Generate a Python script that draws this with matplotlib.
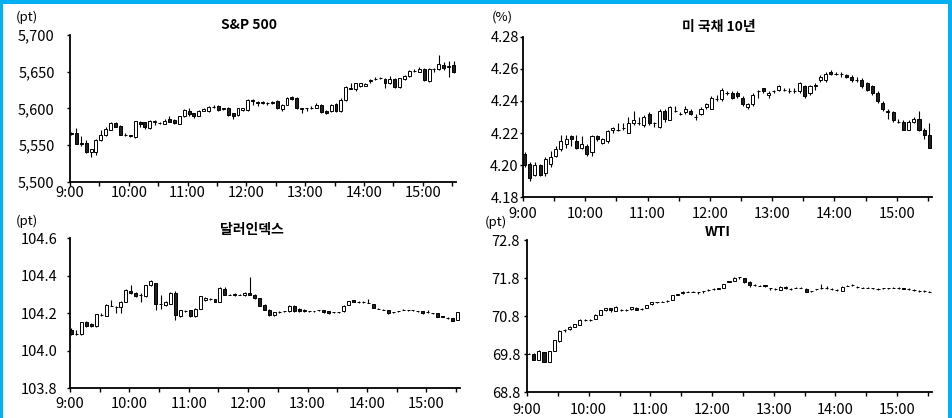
import numpy as np
import matplotlib.pyplot as plt
from matplotlib.patches import Rectangle

plt.rcParams['font.family'] = ['Noto Sans CJK KR', 'DejaVu Sans']

# ---- data: 5-minute candles, 9:00 ~ 15:30 ----
time_labels = ['9:00', '10:00', '11:00', '12:00', '13:00', '14:00', '15:00']

spx_open = [5567, 5566, 5553, 5553, 5540, 5540, 5557, 5564, 5571, 5580,
            5576, 5564, 5563, 5561, 5582, 5581, 5573, 5581, 5580, 5579,
            5586, 5584, 5579, 5589, 5597, 5593, 5590, 5597, 5596, 5602,
            5603, 5599, 5601, 5593, 5591, 5598, 5598, 5612, 5609, 5609,
            5607, 5607, 5610, 5599, 5605, 5615, 5614, 5600, 5600, 5600,
            5601, 5605, 5597, 5596, 5606, 5596, 5611, 5628, 5626, 5630,
            5631, 5637, 5640, 5641, 5640, 5634, 5640, 5629, 5640, 5644,
            5651, 5650, 5654, 5637, 5654, 5653, 5659, 5656, 5659]
spx_close = [5565, 5552, 5551, 5540, 5544, 5557, 5564, 5572, 5580, 5575,
             5564, 5563, 5562, 5583, 5579, 5574, 5583, 5583, 5580, 5583,
             5582, 5580, 5589, 5598, 5592, 5590, 5597, 5599, 5602, 5602,
             5598, 5600, 5591, 5589, 5600, 5600, 5612, 5610, 5607, 5607,
             5607, 5609, 5600, 5605, 5614, 5613, 5600, 5599, 5600, 5601,
             5605, 5595, 5594, 5605, 5596, 5612, 5629, 5627, 5634, 5634,
             5633, 5638, 5640, 5641, 5634, 5640, 5629, 5641, 5644, 5651,
             5651, 5654, 5638, 5654, 5653, 5660, 5655, 5658, 5649]
spx_high = [5568, 5573, 5562, 5557, 5545, 5558, 5571, 5575, 5581, 5581,
            5577, 5566, 5564, 5583, 5583, 5582, 5584, 5584, 5582, 5586,
            5589, 5585, 5590, 5599, 5601, 5594, 5598, 5600, 5603, 5605,
            5605, 5601, 5602, 5594, 5601, 5601, 5613, 5613, 5610, 5610,
            5609, 5610, 5611, 5606, 5616, 5617, 5615, 5601, 5601, 5603,
            5607, 5606, 5598, 5606, 5607, 5614, 5630, 5635, 5635, 5635,
            5635, 5640, 5643, 5643, 5641, 5644, 5641, 5642, 5645, 5652,
            5654, 5656, 5655, 5655, 5655, 5673, 5663, 5665, 5665]
spx_low = [5563, 5551, 5549, 5539, 5534, 5537, 5556, 5562, 5570, 5574,
           5563, 5562, 5561, 5560, 5575, 5572, 5572, 5577, 5578, 5578,
           5581, 5578, 5578, 5588, 5590, 5587, 5589, 5596, 5595, 5600,
           5597, 5598, 5590, 5585, 5590, 5596, 5597, 5604, 5603, 5606,
           5605, 5606, 5599, 5597, 5604, 5612, 5599, 5594, 5596, 5599,
           5600, 5594, 5592, 5595, 5595, 5595, 5610, 5626, 5624, 5629,
           5630, 5635, 5639, 5640, 5628, 5633, 5628, 5628, 5639, 5643,
           5649, 5649, 5637, 5636, 5650, 5652, 5652, 5643, 5648]

ust_open = [4.207, 4.201, 4.194, 4.200, 4.195, 4.201, 4.206, 4.210, 4.213, 4.218,
            4.215, 4.211, 4.212, 4.208, 4.218, 4.214, 4.215, 4.222, 4.222, 4.223,
            4.220, 4.226, 4.226, 4.225, 4.232, 4.226, 4.224, 4.234, 4.228, 4.234,
            4.232, 4.233, 4.234, 4.230, 4.232, 4.236, 4.235, 4.241, 4.241, 4.245,
            4.245, 4.245, 4.242, 4.236, 4.238, 4.246, 4.248, 4.244, 4.246, 4.247,
            4.247, 4.246, 4.246, 4.246, 4.249, 4.245, 4.249, 4.253, 4.253, 4.258,
            4.257, 4.257, 4.256, 4.255, 4.253, 4.253, 4.251, 4.249, 4.245, 4.239,
            4.234, 4.233, 4.227, 4.227, 4.222, 4.227, 4.229, 4.222, 4.219]
ust_close = [4.200, 4.192, 4.200, 4.194, 4.204, 4.205, 4.210, 4.215, 4.216, 4.216,
             4.211, 4.213, 4.207, 4.218, 4.216, 4.216, 4.221, 4.223, 4.222, 4.223,
             4.226, 4.228, 4.226, 4.230, 4.226, 4.226, 4.234, 4.229, 4.236, 4.234,
             4.232, 4.235, 4.232, 4.230, 4.235, 4.238, 4.242, 4.241, 4.247, 4.245,
             4.242, 4.243, 4.238, 4.238, 4.244, 4.246, 4.246, 4.245, 4.246, 4.249,
             4.247, 4.246, 4.246, 4.251, 4.243, 4.249, 4.250, 4.255, 4.257, 4.257,
             4.257, 4.257, 4.255, 4.253, 4.253, 4.249, 4.247, 4.245, 4.240, 4.235,
             4.233, 4.228, 4.227, 4.222, 4.227, 4.229, 4.222, 4.219, 4.211]
ust_high = [4.208, 4.202, 4.202, 4.201, 4.205, 4.209, 4.212, 4.219, 4.219, 4.219,
            4.219, 4.218, 4.213, 4.219, 4.219, 4.217, 4.222, 4.224, 4.226, 4.226,
            4.230, 4.234, 4.230, 4.231, 4.233, 4.227, 4.235, 4.235, 4.237, 4.237,
            4.233, 4.237, 4.235, 4.232, 4.236, 4.239, 4.243, 4.244, 4.248, 4.246,
            4.246, 4.246, 4.243, 4.239, 4.245, 4.247, 4.248, 4.246, 4.247, 4.250,
            4.248, 4.248, 4.248, 4.252, 4.250, 4.250, 4.251, 4.256, 4.258, 4.259,
            4.258, 4.258, 4.257, 4.256, 4.255, 4.254, 4.252, 4.250, 4.246, 4.240,
            4.235, 4.234, 4.229, 4.228, 4.228, 4.230, 4.234, 4.223, 4.226]
ust_low = [4.199, 4.190, 4.193, 4.193, 4.193, 4.199, 4.205, 4.209, 4.211, 4.212,
           4.210, 4.210, 4.206, 4.206, 4.215, 4.213, 4.214, 4.220, 4.221, 4.222,
           4.220, 4.225, 4.225, 4.224, 4.225, 4.224, 4.223, 4.227, 4.228, 4.233,
           4.231, 4.232, 4.231, 4.228, 4.231, 4.235, 4.235, 4.240, 4.240, 4.244,
           4.241, 4.242, 4.237, 4.235, 4.237, 4.242, 4.245, 4.242, 4.245, 4.246,
           4.246, 4.245, 4.245, 4.245, 4.242, 4.244, 4.247, 4.252, 4.252, 4.256,
           4.256, 4.255, 4.254, 4.252, 4.252, 4.248, 4.246, 4.244, 4.239, 4.234,
           4.229, 4.227, 4.226, 4.222, 4.222, 4.226, 4.221, 4.216, 4.211]

dxy_open = [104.11, 104.09, 104.088, 104.155, 104.145, 104.13, 104.19, 104.185, 104.24, 104.235,
            104.235, 104.26, 104.32, 104.31, 104.30, 104.29, 104.35, 104.36, 104.25, 104.245,
            104.25, 104.31, 104.185, 104.21, 104.215, 104.185, 104.225, 104.27, 104.275, 104.275,
            104.26, 104.33, 104.30, 104.305, 104.30, 104.295, 104.31, 104.30, 104.28, 104.245,
            104.22, 104.19, 104.205, 104.21, 104.21, 104.24, 104.225, 104.22, 104.21, 104.21,
            104.215, 104.215, 104.21, 104.205, 104.205, 104.21, 104.245, 104.27, 104.26, 104.26,
            104.255, 104.25, 104.225, 104.22, 104.215, 104.205, 104.21, 104.22, 104.215, 104.215,
            104.21, 104.21, 104.205, 104.20, 104.20, 104.185, 104.175, 104.175, 104.165]
dxy_close = [104.09, 104.09, 104.152, 104.13, 104.13, 104.195, 104.19, 104.245, 104.24, 104.235,
             104.26, 104.325, 104.31, 104.29, 104.30, 104.35, 104.37, 104.25, 104.25, 104.26,
             104.31, 104.19, 104.215, 104.21, 104.185, 104.225, 104.29, 104.28, 104.275, 104.26,
             104.335, 104.30, 104.30, 104.295, 104.30, 104.31, 104.30, 104.28, 104.24, 104.22,
             104.19, 104.205, 104.205, 104.21, 104.24, 104.21, 104.21, 104.21, 104.21, 104.21,
             104.215, 104.205, 104.20, 104.205, 104.205, 104.24, 104.265, 104.26, 104.26, 104.26,
             104.255, 104.23, 104.225, 104.22, 104.20, 104.205, 104.21, 104.22, 104.215, 104.215,
             104.21, 104.20, 104.205, 104.20, 104.18, 104.18, 104.175, 104.16, 104.205]
dxy_high = [104.12, 104.11, 104.155, 104.16, 104.15, 104.198, 104.20, 104.248, 104.27, 104.238,
            104.265, 104.328, 104.35, 104.312, 104.31, 104.352, 104.38, 104.362, 104.30, 104.265,
            104.312, 104.32, 104.218, 104.215, 104.218, 104.228, 104.292, 104.285, 104.28, 104.278,
            104.338, 104.34, 104.305, 104.308, 104.303, 104.312, 104.395, 104.302, 104.282, 104.247,
            104.222, 104.208, 104.21, 104.213, 104.242, 104.242, 104.227, 104.222, 104.213, 104.213,
            104.218, 104.217, 104.212, 104.208, 104.207, 104.242, 104.268, 104.272, 104.263, 104.263,
            104.275, 104.252, 104.227, 104.223, 104.217, 104.207, 104.211, 104.225, 104.218, 104.217,
            104.213, 104.212, 104.22, 104.202, 104.202, 104.187, 104.178, 104.177, 104.207]
dxy_low = [104.085, 104.085, 104.085, 104.128, 104.125, 104.128, 104.185, 104.183, 104.238, 104.20,
           104.20, 104.258, 104.305, 104.288, 104.26, 104.288, 104.348, 104.22, 104.225, 104.24,
           104.248, 104.165, 104.18, 104.205, 104.18, 104.18, 104.222, 104.265, 104.27, 104.258,
           104.258, 104.298, 104.295, 104.29, 104.297, 104.293, 104.298, 104.278, 104.238, 104.218,
           104.188, 104.188, 104.20, 104.205, 104.208, 104.208, 104.208, 104.208, 104.207, 104.207,
           104.212, 104.203, 104.198, 104.202, 104.203, 104.208, 104.243, 104.258, 104.257, 104.257,
           104.253, 104.228, 104.223, 104.217, 104.198, 104.203, 104.205, 104.219, 104.212, 104.213,
           104.207, 104.198, 104.204, 104.198, 104.178, 104.178, 104.172, 104.158, 104.163]

wti_open = [69.81, 69.80, 69.65, 69.85, 69.59, 69.88, 70.13, 70.44, 70.45, 70.52,
            70.57, 70.70, 70.70, 70.72, 70.83, 70.95, 71.00, 70.94, 70.96, 70.96,
            70.98, 71.02, 70.99, 71.02, 71.11, 71.16, 71.18, 71.20, 71.22, 71.36,
            71.40, 71.44, 71.44, 71.43, 71.46, 71.49, 71.51, 71.52, 71.55, 71.70,
            71.72, 71.82, 71.80, 71.70, 71.62, 71.60, 71.61, 71.53, 71.51, 71.49,
            71.57, 71.51, 71.55, 71.55, 71.52, 71.46, 71.51, 71.53, 71.53, 71.51,
            71.49, 71.46, 71.60, 71.62, 71.57, 71.55, 71.55, 71.53, 71.51, 71.53,
            71.53, 71.55, 71.55, 71.54, 71.51, 71.49, 71.46, 71.46, 71.44]
wti_close = [69.81, 69.65, 69.87, 69.59, 69.88, 70.17, 70.41, 70.44, 70.52, 70.58,
             70.70, 70.70, 70.70, 70.83, 70.96, 71.00, 70.95, 71.05, 70.96, 70.96,
             71.03, 70.96, 70.99, 71.08, 71.16, 71.16, 71.18, 71.20, 71.35, 71.37,
             71.44, 71.44, 71.44, 71.43, 71.46, 71.49, 71.51, 71.53, 71.64, 71.71,
             71.81, 71.82, 71.69, 71.62, 71.62, 71.60, 71.58, 71.53, 71.51, 71.57,
             71.53, 71.51, 71.55, 71.55, 71.43, 71.46, 71.51, 71.53, 71.53, 71.51,
             71.49, 71.57, 71.60, 71.62, 71.57, 71.55, 71.55, 71.53, 71.51, 71.53,
             71.53, 71.55, 71.55, 71.52, 71.51, 71.49, 71.46, 71.46, 71.44]
wti_high = [69.83, 69.82, 69.91, 69.86, 69.89, 70.18, 70.42, 70.47, 70.53, 70.59,
            70.71, 70.72, 70.72, 70.84, 70.97, 71.01, 71.01, 71.06, 70.98, 70.98,
            71.04, 71.03, 71.01, 71.09, 71.17, 71.18, 71.20, 71.22, 71.36, 71.38,
            71.45, 71.46, 71.46, 71.44, 71.47, 71.51, 71.53, 71.54, 71.65, 71.72,
            71.82, 71.83, 71.81, 71.71, 71.63, 71.62, 71.62, 71.54, 71.53, 71.58,
            71.58, 71.53, 71.56, 71.57, 71.53, 71.47, 71.52, 71.63, 71.59, 71.53,
            71.51, 71.58, 71.61, 71.63, 71.59, 71.57, 71.57, 71.55, 71.53, 71.55,
            71.55, 71.57, 71.56, 71.55, 71.53, 71.51, 71.48, 71.48, 71.46]
wti_low = [69.79, 69.63, 69.64, 69.58, 69.58, 69.87, 70.12, 70.38, 70.42, 70.51,
           70.56, 70.68, 70.68, 70.71, 70.82, 70.94, 70.90, 70.93, 70.92, 70.94,
           70.97, 70.95, 70.97, 71.01, 71.10, 71.14, 71.16, 71.18, 71.21, 71.35,
           71.39, 71.42, 71.42, 71.38, 71.41, 71.47, 71.49, 71.51, 71.54, 71.69,
           71.71, 71.77, 71.68, 71.57, 71.58, 71.58, 71.57, 71.49, 71.49, 71.48,
           71.52, 71.49, 71.53, 71.54, 71.42, 71.44, 71.49, 71.52, 71.52, 71.49,
           71.47, 71.45, 71.58, 71.60, 71.55, 71.53, 71.53, 71.51, 71.49, 71.51,
           71.51, 71.53, 71.51, 71.51, 71.49, 71.47, 71.44, 71.44, 71.42]

W, H = 953, 418
fig = plt.figure(figsize=(W / 100, H / 100), dpi=100)


def px_rect(left, top, right, bottom):
    return [left / W, 1 - bottom / H, (right - left) / W, (bottom - top) / H]


def candles(ax, o, c, hi, lo):
    o, c, hi, lo = map(np.asarray, (o, c, hi, lo))
    x = np.arange(len(o)) * 5 + 1.5
    ax.vlines(x, lo, hi, color='black', lw=0.8, zorder=2)
    up = c >= o
    ax.bar(x[up], (c - o)[up], bottom=o[up], width=3, color='white',
           edgecolor='black', lw=0.7, zorder=3)
    ax.bar(x[~up], (c - o)[~up], bottom=o[~up], width=3, color='#202020',
           edgecolor='black', lw=0.7, zorder=3)


def style(ax, yticks, fmt, ypad, xpad):
    for s in ['top', 'right']:
        ax.spines[s].set_visible(False)
    for s in ['left', 'bottom']:
        ax.spines[s].set_linewidth(1.3)
    ax.set_xlim(0, 394)
    ax.set_xticks(np.arange(0, 391, 30))
    ax.set_xticklabels([lab if k % 2 == 0 else '' for k, lab in
                        enumerate(np.repeat(time_labels, 2)[:14])])
    ax.set_ylim(yticks[0], yticks[-1])
    ax.set_yticks(yticks)
    ax.set_yticklabels([fmt.format(v) for v in yticks])
    ax.tick_params(axis='x', direction='out', length=3, width=1, pad=xpad, labelsize=10.5)
    ax.tick_params(axis='y', direction='out', length=2, width=1, pad=ypad, labelsize=10.5)


panels = [
    dict(rect=px_rect(70, 35, 456, 181.7), data=(spx_open, spx_close, spx_high, spx_low),
         yticks=[5500, 5550, 5600, 5650, 5700], fmt='{:,.0f}', ypad=9, xpad=0,
         title='S&P 500', tpos=(249, 25), unit='(pt)', upos=(27, 17)),
    dict(rect=px_rect(523, 36.7, 932, 197.3), data=(ust_open, ust_close, ust_high, ust_low),
         yticks=[4.18, 4.20, 4.22, 4.24, 4.26, 4.28], fmt='{:.2f}', ypad=1, xpad=4,
         title='미 국채 10년', tpos=(719, 27), unit='(%)', upos=(502, 17)),
    dict(rect=px_rect(70, 238.3, 460, 388.3), data=(dxy_open, dxy_close, dxy_high, dxy_low),
         yticks=[103.8, 104.0, 104.2, 104.4, 104.6], fmt='{:.1f}', ypad=7, xpad=3,
         title='달러인덱스', tpos=(252, 230), unit='(pt)', upos=(27, 221)),
    dict(rect=px_rect(527, 240, 932, 392), data=(wti_open, wti_close, wti_high, wti_low),
         yticks=[68.8, 69.8, 70.8, 71.8, 72.8], fmt='{:.1f}', ypad=3, xpad=5,
         title='WTI', tpos=(718, 232), unit='(pt)', upos=(496, 222)),
]

for p in panels:
    ax = fig.add_axes(p['rect'])
    candles(ax, *p['data'])
    style(ax, p['yticks'], p['fmt'], p['ypad'], p['xpad'])
    fig.text(p['tpos'][0] / W, 1 - p['tpos'][1] / H, p['title'], ha='center', va='center',
             fontsize=10, fontweight='bold')
    fig.text(p['upos'][0] / W, 1 - p['upos'][1] / H, p['unit'], ha='center', va='center',
             fontsize=9.5)

# blue frame
blue = '#00B0F0'
fig.add_artist(Rectangle((0, 1 - 4 / H), 1, 4 / H, transform=fig.transFigure, color=blue, lw=0))
fig.add_artist(Rectangle((0, 0), 3 / W, 1, transform=fig.transFigure, color=blue, lw=0))
fig.add_artist(Rectangle((1 - 5 / W, 0), 5 / W, 1, transform=fig.transFigure, color=blue, lw=0))

fig.savefig('out.png', dpi=100)
